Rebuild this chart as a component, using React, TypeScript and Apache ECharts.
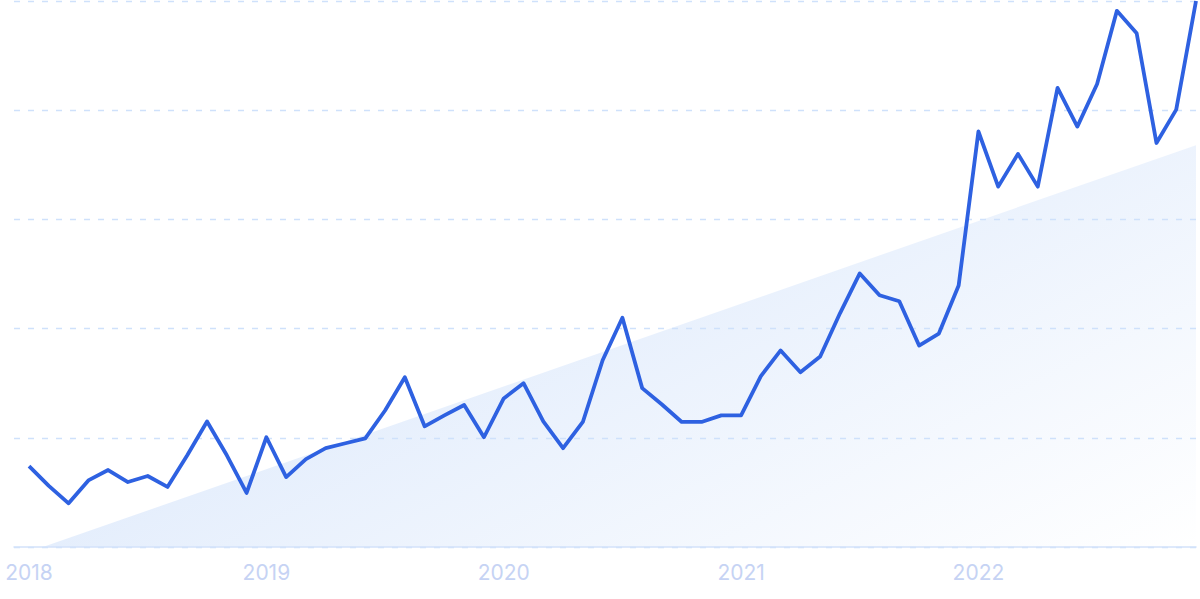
import React, { useEffect, useRef } from "react";
import * as echarts from "echarts";

const years = ["2018", "2019", "2020", "2021", "2022"];
const yearTickIndex = [0, 12, 24, 36, 48];

const values = [
  14.8, 11.2, 8.0, 12.2, 14.1, 11.9, 13.0, 11.0, 16.8, 23.0, 16.8, 9.9,
  20.1, 12.8, 16.1, 18.1, 19.0, 19.9, 25.0, 31.1, 22.1, 24.1, 26.0, 20.1,
  27.2, 30.0, 23.0, 18.1, 22.9, 34.2, 42.0, 29.1, 26.1, 22.9, 22.9, 24.1,
  24.1, 31.3, 36.0, 32.0, 34.9, 42.8, 50.1, 46.1, 45.0, 36.9, 39.1, 47.9,
  76.1, 66.0, 72.0, 66.0, 84.1, 77.0, 84.8, 98.2, 94.1, 74.0, 80.1, 100,
];

const trendX = [0.7, 59];
const trendY = [0, 73.6];

export default function App() {
  const ref = useRef<HTMLDivElement>(null);

  useEffect(() => {
    document.body.style.margin = "0";
    if (!ref.current) return;
    const chart = echarts.init(ref.current, undefined, { renderer: "svg" });
    const lineData = values.map((v, i) => [i, v]);
    const trendData = trendX.map((x, i) => [x, trendY[i]]);
    chart.setOption({
      animation: false,
      grid: { left: 14, right: 4, top: 1, bottom: 52, containLabel: false },
      xAxis: {
        type: "value",
        min: -0.76,
        max: 59,
        z: 2.5,
        axisLine: { show: true, lineStyle: { color: "#d3e2fa", width: 1.5 } },
        axisTick: { show: false },
        splitLine: { show: false },
        axisLabel: {
          customValues: yearTickIndex,
          formatter: (v: number) => {
            const k = yearTickIndex.indexOf(Math.round(v));
            return k >= 0 ? years[k] : "";
          },
          color: "#c6d3f4",
          fontSize: 21,
          fontFamily: "Inter, 'Noto Sans', sans-serif",
          margin: 15,
        },
      },
      yAxis: {
        type: "value",
        min: 0,
        max: 100,
        interval: 20,
        z: 2,
        axisLine: { show: false },
        axisTick: { show: false },
        axisLabel: { show: false },
        splitLine: {
          show: true,
          lineStyle: { color: "#cfe1fb", width: 1.3, type: [6, 8] },
        },
      },
      series: [
        {
          type: "line",
          z: 1,
          data: trendData,
          symbol: "none",
          silent: true,
          lineStyle: { width: 0, opacity: 0 },
          areaStyle: {
            origin: "start",
            color: new echarts.graphic.LinearGradient(0, 0.3, 1, 1, [
              { offset: 0, color: "#d8e6fb" },
              { offset: 1, color: "#ffffff" },
            ]),
            opacity: 1,
          },
        },
        {
          type: "line",
          z: 3,
          data: lineData,
          symbol: "none",
          smooth: false,
          lineStyle: { width: 3.8, color: "#2e61e1", join: "round" },
        },
      ],
    });
    return () => chart.dispose();
  }, []);

  return <div ref={ref} style={{ width: 1200, height: 599 }} />;
}
